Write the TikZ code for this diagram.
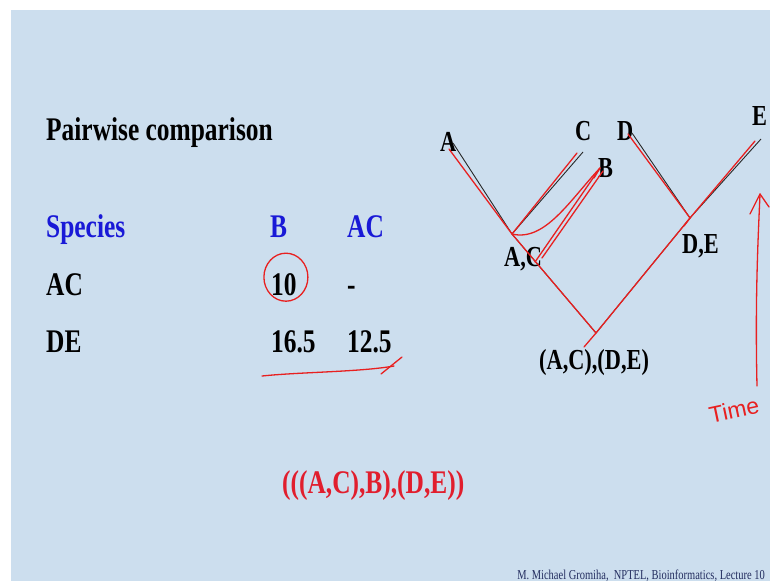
\documentclass[tikz,border=0pt]{standalone}
\usepackage{fontspec}
\setmainfont{Liberation Serif}[FakeStretch=0.77]
\newfontfamily\penfont{Liberation Sans}
\usepackage{xcolor}
\definecolor{slideblue}{RGB}{204,222,238}
\definecolor{headblue}{RGB}{25,25,215}
\definecolor{penred}{RGB}{232,32,32}
\definecolor{formred}{RGB}{225,30,45}
\definecolor{footnavy}{RGB}{35,45,95}
\definecolor{treegrey}{RGB}{40,40,40}

\begin{document}
\begin{tikzpicture}[x=1pt,y=-1pt,
  txt/.style={anchor=base west, inner sep=0pt, font=\fontsize{33}{38}\selectfont\bfseries},
  leaf/.style={anchor=base west, inner sep=0pt, font=\fontsize{29}{34}\selectfont\bfseries},
  tree/.style={draw=treegrey, line width=0.9pt},
  pen/.style={draw=penred, line width=1.3pt, line cap=round, line join=round}]
  % slide background
  \useasboundingbox (0,0) rectangle (770,581);
  \fill[white] (0,0) rectangle (770,581);
  \fill[slideblue] (11,10) rectangle (770,581);

  % distance table
  \node[txt](title) at (46,140){Pairwise comparison};
  \node[txt,headblue](hSp) at (46,237){Species};
  \node[txt,headblue](hB) at (270,237){B};
  \node[txt,headblue](hAC) at (347,237){AC};
  \node[txt](rAC) at (46,295){AC};
  \node[txt](vACB) at (271,295){10};
  \node[txt](vACAC) at (347,295){-};
  \node[txt](rDE) at (46,352){DE};
  \node[txt](vDEB) at (271,352){16.5};
  \node[txt](vDEAC) at (347,352){12.5};
  \node[txt,formred](newick) at (282,493){(((A,C),B),(D,E))};

  % tree labels
  \node[leaf](A) at (440,151){A};
  \node[leaf](C) at (575,140){C};
  \node[leaf](D) at (617,140){D};
  \node[leaf](E) at (752,125){E};
  \node[leaf](B) at (598,177){B};
  \node[leaf](AC) at (504,266){A,C};
  \node[leaf](DE) at (682,253){D,E};
  \node[leaf](root) at (539,369){(A,C),(D,E)};

  % branch points
  \coordinate (tA) at (453,143);
  \coordinate (tC) at (583,152);
  \coordinate (tD) at (632,133);
  \coordinate (tE) at (761,139);
  \coordinate (jAC) at (512,234);
  \coordinate (jDE) at (690,218);
  \coordinate (jR) at (596,333);

  \draw[tree](tA)--(jAC)--(jR)--(jDE)--(tE);
  \draw[tree](tC)--(jAC);
  \draw[tree](tD)--(jDE);

  % pen marks over the tree
  \coordinate (pA) at (449,149);
  \coordinate (pC) at (577,153);
  \coordinate (pB) at (600,168);
  \coordinate (pB2) at (603,171);
  \coordinate (pD) at (628,134);
  \coordinate (pE) at (755,141);
  \coordinate (pAC) at (535,262);
  \coordinate (pAC2) at (542,258);
  \coordinate (pTail) at (584,347);
  \draw[pen](pA)--(jAC)--(jR);
  \draw[pen](pC)--(jAC);
  \draw[pen](jAC) .. controls (545,242) and (570,200) .. (pB);
  \draw[pen](pAC)--(pB);
  \draw[pen](pAC2)--(pB2);
  \draw[pen](pB)--(594,178);
  \draw[pen](pD)--(jDE);
  \draw[pen](pE)--(jDE);
  \draw[pen](jDE)--(jR)--(pTail);
  \draw[pen](jDE)--(684,226);

  % pen marks on the table
  \draw[pen](vACB.center)++(2,-7) ellipse [x radius=22, y radius=24];
  \coordinate (uL) at (262,376);
  \coordinate (uR) at (394,366);
  \draw[pen](uL) .. controls (300,372) and (360,372) .. (uR);
  \draw[pen](381,374)--(402,357);

  % time arrow
  \coordinate (tBot) at (757,386);
  \coordinate (tTop) at (760,194);
  \draw[pen](tBot) .. controls (755,300) and (758,240) .. (tTop);
  \draw[pen](750,214)--(tTop)--(769,207);
  \node[anchor=center, inner sep=0pt, text=penred, rotate=12,
    font=\fontsize{23}{26}\selectfont\penfont](time) at (734,410){Time};

  % footer
  \node[anchor=base east, inner sep=0pt, text=footnavy,
    font=\fontsize{13.6}{15}\selectfont](foot) at (765,579)
    {M. Michael Gromiha,\ \ NPTEL, Bioinformatics, Lecture 10};
\end{tikzpicture}
\end{document}
